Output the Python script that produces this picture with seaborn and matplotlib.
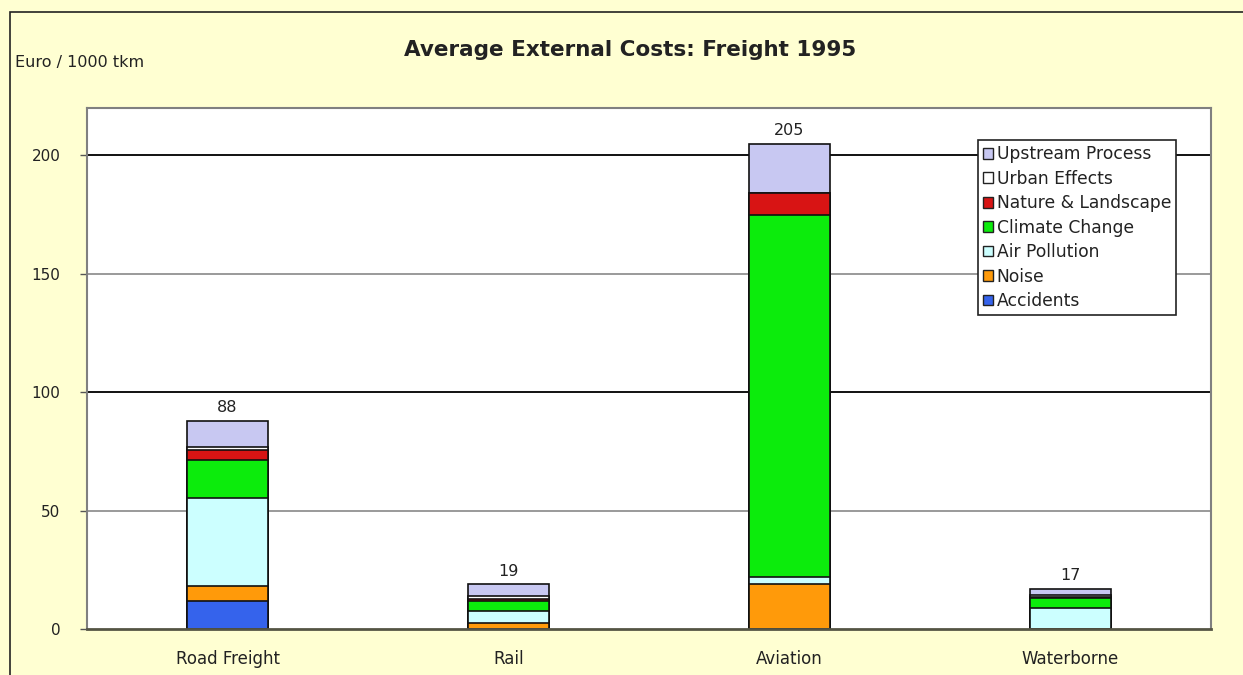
import numpy as np
import pandas as pd
import matplotlib
matplotlib.use("Agg")
import matplotlib.pyplot as plt
import seaborn as sns
from matplotlib.patches import Rectangle

categories = ["Road Freight", "Rail", "Aviation", "Waterborne"]
components = ["Accidents", "Noise", "Air Pollution", "Climate Change",
              "Nature & Landscape", "Urban Effects", "Upstream Process"]
accidents = [12, 0, 0, 0]
noise = [6, 2.5, 19, 0]
air_pollution = [37.5, 5, 3, 9]
climate_change = [16, 4.5, 153, 4]
nature_landscape = [4, 0.5, 9, 0.5]
urban_effects = [1.5, 1.5, 0, 1]
upstream_process = [11, 5, 21, 2.5]
totals = [88, 19, 205, 17]
colors = ["#3563EC", "#FF9A0A", "#CCFFFF", "#0CEC0C", "#D81414", "#FFFFFF", "#C8C8F2"]
yticks = [0, 50, 100, 150, 200]

series = [accidents, noise, air_pollution, climate_change,
          nature_landscape, urban_effects, upstream_process]

sns.set_theme(style="white")
plt.rcParams['font.family'] = ['DejaVu Sans']

fig = plt.figure(figsize=(12.43, 6.75), dpi=100)
fig.patch.set_facecolor("#FFFFD2")
W, H = 1243, 675
ax = fig.add_axes([87 / W, 1 - 629 / H, (1211 - 87) / W, (629 - 108) / H])
ax.set_facecolor("white")

# outer chart border
fig.patches.append(Rectangle((10 / W, -0.1), 1.2, 1 - 12 / H + 0.1,
                             transform=fig.transFigure, fill=False,
                             edgecolor="#222222", linewidth=1.2, clip_on=False))

cum = np.cumsum(np.array(series, dtype=float), axis=0)
df_rows = []
for i, comp in enumerate(components):
    for j, cat in enumerate(categories):
        df_rows.append({"cat": cat, "comp": comp, "cum": cum[i, j]})
df = pd.DataFrame(df_rows)

# gridlines
for v in yticks[1:]:
    ax.axhline(v, color="#111111" if v % 100 == 0 else "#9A9A9A",
               linewidth=1.4, zorder=0)

handles = []
for i in range(len(components) - 1, -1, -1):
    sub = df[df["comp"] == components[i]]
    sns.barplot(data=sub, x="cat", y="cum", order=categories, color=colors[i],
                width=0.29, edgecolor="#111111", linewidth=1.2, ax=ax,
                saturation=1, zorder=2)
    handles.append(Rectangle((0, 0), 1, 1, facecolor=colors[i],
                             edgecolor="#222222", linewidth=1))

for j, t in enumerate(totals):
    ax.text(j, t + 2.3, str(t), ha="center", va="bottom", fontsize=11.5,
            color="#222222")

ax.set_ylim(0, 220)
ax.set_xlim(-0.5, 3.5)
ax.set_yticks(yticks)
ax.set_yticklabels([str(v) for v in yticks], fontsize=11, color="#222222")
ax.set_xlabel("")
ax.set_ylabel("")
ax.tick_params(axis="y", which="both", left=True, length=5, width=1,
               color="#555555", pad=14)
ax.tick_params(axis="x", bottom=False, labelsize=12, labelcolor="#222222", pad=9)
for s in ["left", "right", "top", "bottom"]:
    ax.spines[s].set_color("#808080")
    ax.spines[s].set_linewidth(1.5)
ax.spines["bottom"].set_color("#555544")
ax.spines["bottom"].set_linewidth(2)

leg = ax.legend(handles, components[::-1], loc="upper left",
                bbox_to_anchor=((978 - 87) / (1211 - 87), 1 - (140 - 108) / (629 - 108)),
                fontsize=12.3, frameon=True, fancybox=False, framealpha=1,
                edgecolor="#222222", handlelength=0.6, handleheight=0.6,
                handletextpad=0.2, labelspacing=0.38, borderpad=0.3,
                borderaxespad=0)
leg.get_frame().set_linewidth(1.2)
for t in leg.get_texts():
    t.set_color("#222222")

fig.text(630 / W, 1 - 50 / H, "Average External Costs: Freight 1995",
         ha="center", va="center", fontsize=15.5, fontweight="bold",
         color="#222222")
fig.text(15 / W, 1 - 63 / H, "Euro / 1000 tkm", ha="left", va="center",
         fontsize=11.5, color="#222222")

fig.savefig("out.png", dpi=100, facecolor=fig.get_facecolor())
